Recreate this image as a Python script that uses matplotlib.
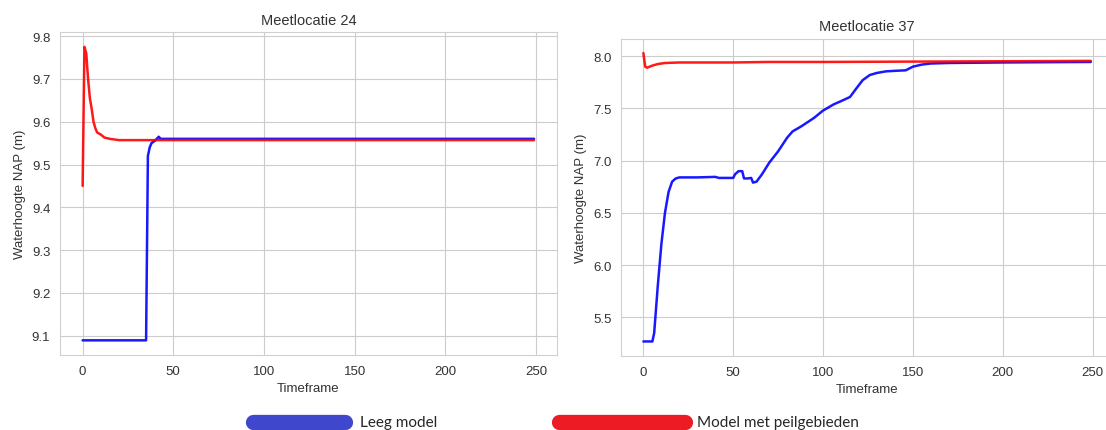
import matplotlib
matplotlib.use('Agg')
import matplotlib.pyplot as plt
import seaborn as sns
from matplotlib.lines import Line2D

sns.set_style('whitegrid')
plt.rcParams['font.family'] = ['Liberation Sans', 'DejaVu Sans']

# Meetlocatie 24
t24_leeg = [0, 35, 36, 37, 38, 40, 42, 43, 60, 100, 150, 200, 249]
h24_leeg = [9.089, 9.089, 9.52, 9.54, 9.55, 9.556, 9.565, 9.560, 9.560, 9.560, 9.560, 9.560, 9.560]
t24_peil = [0, 1, 2, 3, 4, 5, 6, 7, 8, 10, 12, 15, 20, 40, 100, 249]
h24_peil = [9.45, 9.775, 9.76, 9.70, 9.655, 9.63, 9.60, 9.585, 9.575, 9.570, 9.563, 9.560, 9.557, 9.557, 9.557, 9.557]

# Meetlocatie 37
t37_leeg = [0, 5, 6, 8, 10, 12, 14, 16, 18, 20, 30, 40, 42, 50, 51, 53, 55, 56, 58, 60, 61, 63,
            66, 70, 75, 80, 83, 88, 95, 100, 106, 110, 115, 118, 122, 126, 130, 135, 140, 146,
            150, 155, 160, 170, 200, 249]
h37_leeg = [5.27, 5.27, 5.35, 5.80, 6.20, 6.50, 6.70, 6.80, 6.83, 6.84, 6.84, 6.845, 6.835, 6.835,
            6.87, 6.90, 6.90, 6.83, 6.83, 6.835, 6.79, 6.80, 6.87, 6.98, 7.09, 7.22, 7.28, 7.33,
            7.41, 7.48, 7.54, 7.57, 7.61, 7.68, 7.77, 7.82, 7.84, 7.855, 7.86, 7.865, 7.90, 7.92,
            7.93, 7.935, 7.94, 7.945]
t37_peil = [0, 1, 2, 5, 8, 12, 20, 50, 70, 100, 249]
h37_peil = [8.03, 7.90, 7.89, 7.91, 7.925, 7.935, 7.94, 7.94, 7.945, 7.945, 7.955]

fig = plt.figure(figsize=(11.06, 4.31), dpi=100)
ax1 = fig.add_axes([0.0543, 0.174, 0.449, 0.749])
ax2 = fig.add_axes([0.5615, 0.172, 0.445, 0.736])

ax1.plot(t24_leeg, h24_leeg, color='blue', lw=1.8, alpha=0.9)
ax1.plot(t24_peil, h24_peil, color='red', lw=1.8, alpha=0.9)
ax1.set_title('Meetlocatie 24', fontsize=10.5, color='#333333')
ax1.set_xlabel('Timeframe', fontsize=9.5, color='#333333')
ax1.set_ylabel('Waterhoogte NAP (m)', fontsize=9.5, color='#333333')

ax2.plot(t37_leeg, h37_leeg, color='blue', lw=1.8, alpha=0.9)
ax2.plot(t37_peil, h37_peil, color='red', lw=1.8, alpha=0.9)
ax2.set_title('Meetlocatie 37', fontsize=10.5, color='#333333')
ax2.set_xlabel('Timeframe', fontsize=9.5, color='#333333')
ax2.set_ylabel('Waterhoogte NAP (m)', fontsize=9.5, color='#333333')
ax2.set_yticks([5.5, 6.0, 6.5, 7.0, 7.5, 8.0])

for ax in (ax1, ax2):
    ax.tick_params(labelsize=9.5, labelcolor='#333333')
    ax.set_xticks([0, 50, 100, 150, 200, 250])
    for s in ax.spines.values():
        s.set_color('#d0d0d0')

# legenda onderaan
fig.add_artist(Line2D([0.229, 0.3115], [0.019, 0.019], transform=fig.transFigure,
                      color='#3f48cc', lw=11, solid_capstyle='round'))
fig.text(0.3255, 0.019, 'Leeg model', fontsize=11, va='center', family='Lato')
fig.add_artist(Line2D([0.505, 0.619], [0.019, 0.019], transform=fig.transFigure,
                      color='#ed1c24', lw=11, solid_capstyle='round'))
fig.text(0.630, 0.019, 'Model met peilgebieden', fontsize=11, va='center', family='Lato')

fig.savefig('out.png', dpi=100)
